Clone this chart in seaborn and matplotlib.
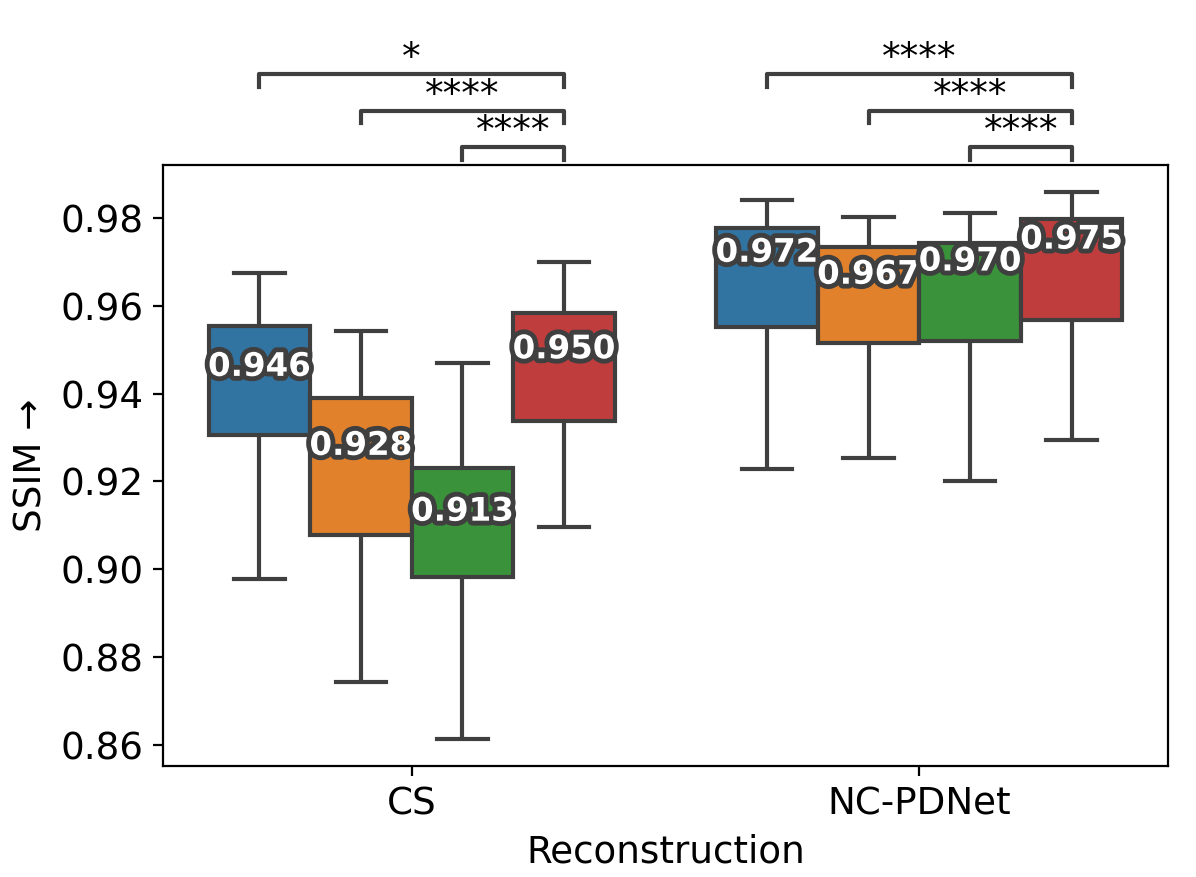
import numpy as np
import pandas as pd
import matplotlib
matplotlib.use("Agg")
import matplotlib.pyplot as plt
import matplotlib.patheffects as pe
import seaborn as sns

plt.rcParams.update({
    'font.family': 'DejaVu Sans',
    'font.size': 13.4,
})

reconstructions = ["CS", "NC-PDNet"]
methods = ["Method A", "Method B", "Method C", "Method D"]

# box statistics: one row per reconstruction, one column per method
whisker_low = [[0.8977, 0.8742, 0.8614, 0.9096],
               [0.9228, 0.9254, 0.9201, 0.9294]]
q1 = [[0.9306, 0.9078, 0.8982, 0.9338],
      [0.9552, 0.9516, 0.9521, 0.9569]]
median = [[0.946, 0.928, 0.913, 0.950],
          [0.972, 0.967, 0.970, 0.975]]
q3 = [[0.9555, 0.9391, 0.9231, 0.9585],
      [0.9777, 0.9734, 0.9744, 0.9798]]
whisker_high = [[0.9674, 0.9542, 0.9471, 0.9700],
                [0.9842, 0.9802, 0.9811, 0.9859]]

# significance of methods A, B, C against method D
pairs = [(2, 3), (1, 3), (0, 3)]
stars = [["****", "****", "*"],
         ["****", "****", "****"]]


def main():
    # five points per box so that the quartiles land exactly on the read values
    rows = []
    for i, rec in enumerate(reconstructions):
        for j, m in enumerate(methods):
            for v in (whisker_low[i][j], q1[i][j], median[i][j], q3[i][j], whisker_high[i][j]):
                rows.append({"Reconstruction": rec, "method": m, "SSIM": v})
    df = pd.DataFrame(rows)

    fig = plt.figure(figsize=(5.98, 4.385), dpi=200)
    ax = fig.add_axes([0.1363, 0.1266, 0.8403, 0.6853])

    sns.boxplot(
        data=df, x="Reconstruction", y="SSIM", hue="method",
        palette=sns.color_palette("tab10", 4),
        linecolor="#3f3f3f", linewidth=1.5, legend=False, ax=ax,
        medianprops={"visible": False},
    )

    width = 0.8 / len(methods)
    offsets = (np.arange(len(methods)) - (len(methods) - 1) / 2) * width

    # median labels
    for i in range(len(reconstructions)):
        for j in range(len(methods)):
            ax.text(i + offsets[j], median[i][j], f"{median[i][j]:.3f}",
                    ha="center", va="center", color="white", fontsize=11.7,
                    fontweight="bold", zorder=10,
                    path_effects=[pe.withStroke(linewidth=3.5, foreground="#3f3f3f")])

    # significance brackets above the axes
    trans = ax.get_xaxis_transform()
    base, step, tick = 1.030, 0.0605, 0.021
    for i in range(len(reconstructions)):
        for level, (a, b) in enumerate(pairs):
            x1, x2 = i + offsets[a], i + offsets[b]
            y = base + level * step
            ax.plot([x1, x1, x2, x2], [y - tick, y, y, y - tick], color="#3f3f3f",
                    lw=1.5, transform=trans, clip_on=False)
            ax.text((x1 + x2) / 2, y - 0.005, stars[i][level], ha="center", va="bottom",
                    transform=trans, fontsize=13.4)

    ax.set_xlabel("Reconstruction")
    ax.set_ylabel("SSIM \u2192")

    fig.savefig("out.png", dpi=200)


if __name__ == '__main__':
    main()
